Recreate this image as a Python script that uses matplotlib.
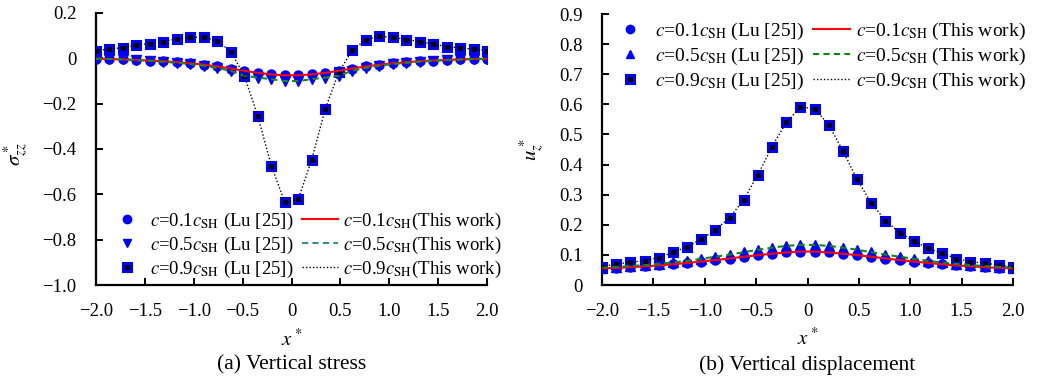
import numpy as np
import matplotlib
matplotlib.use("Agg")
from matplotlib import pyplot as plt
from matplotlib.lines import Line2D
from matplotlib.ticker import FuncFormatter

plt.rcParams['font.family'] = ['Liberation Serif', 'DejaVu Serif']
plt.rcParams['mathtext.fontset'] = 'stix'
plt.rcParams['font.size'] = 12

# 30 sample points between -2 and 2
x = np.linspace(-2.0, 2.0, 30)

# (a) vertical stress
stress_01 = [-0.002, -0.003, -0.005, -0.007, -0.010, -0.013, -0.017, -0.022, -0.028, -0.036,
             -0.045, -0.055, -0.064, -0.071, -0.075, -0.075, -0.071, -0.064, -0.055, -0.045,
             -0.036, -0.028, -0.022, -0.017, -0.013, -0.010, -0.007, -0.005, -0.003, -0.002]
stress_05 = [-0.002, -0.003, -0.005, -0.008, -0.011, -0.015, -0.020, -0.025, -0.033, -0.043,
             -0.055, -0.077, -0.085, -0.092, -0.100, -0.100, -0.092, -0.085, -0.077, -0.055,
             -0.043, -0.033, -0.025, -0.020, -0.015, -0.011, -0.008, -0.005, -0.003, -0.002]
stress_09 = [0.034, 0.041, 0.047, 0.058, 0.065, 0.074, 0.086, 0.093, 0.093, 0.077,
             0.030, -0.077, -0.254, -0.473, -0.634, -0.622, -0.447, -0.224, -0.062, 0.035,
             0.083, 0.097, 0.093, 0.083, 0.074, 0.063, 0.052, 0.046, 0.040, 0.034]

# (b) vertical displacement
disp_01 = [0.055, 0.057, 0.059, 0.062, 0.065, 0.069, 0.073, 0.078, 0.083, 0.088,
           0.094, 0.099, 0.104, 0.108, 0.111, 0.111, 0.108, 0.104, 0.099, 0.094,
           0.088, 0.083, 0.078, 0.073, 0.069, 0.065, 0.062, 0.059, 0.057, 0.055]
disp_05 = [0.058, 0.060, 0.063, 0.066, 0.070, 0.075, 0.080, 0.087, 0.094, 0.101,
           0.109, 0.117, 0.124, 0.130, 0.133, 0.133, 0.130, 0.124, 0.117, 0.109,
           0.101, 0.094, 0.087, 0.080, 0.075, 0.070, 0.066, 0.063, 0.060, 0.058]
disp_09 = [0.061, 0.070, 0.075, 0.081, 0.091, 0.108, 0.127, 0.152, 0.183, 0.224,
           0.283, 0.366, 0.460, 0.540, 0.591, 0.586, 0.532, 0.446, 0.351, 0.272,
           0.214, 0.174, 0.146, 0.122, 0.105, 0.088, 0.078, 0.072, 0.067, 0.061]

lab_lu = [r'$c$=0.1$c_{\mathrm{SH}}$ (Lu [25])',
          r'$c$=0.5$c_{\mathrm{SH}}$ (Lu [25])',
          r'$c$=0.9$c_{\mathrm{SH}}$ (Lu [25])']
lab_tw = [r'$c$=0.1$c_{\mathrm{SH}}$(This work)',
          r'$c$=0.5$c_{\mathrm{SH}}$(This work)',
          r'$c$=0.9$c_{\mathrm{SH}}$(This work)']
lab_tw2 = [r'$c$=0.1$c_{\mathrm{SH}}$ (This work)',
           r'$c$=0.5$c_{\mathrm{SH}}$ (This work)',
           r'$c$=0.9$c_{\mathrm{SH}}$ (This work)']

blue = '#0000ff'


def fmt(v, pos):
    if abs(v) < 1e-9:
        return '0'
    return ('%.1f' % v).replace('-', '\u2212')


def style_axes(ax):
    for s in ['top', 'right']:
        ax.spines[s].set_visible(False)
    for s in ['left', 'bottom']:
        ax.spines[s].set_linewidth(1.6)
    ax.tick_params(direction='in', length=5, width=1.4, labelsize=13.5)
    ax.tick_params(axis='x', pad=13)
    ax.tick_params(axis='y', pad=14)
    ax.xaxis.set_major_formatter(FuncFormatter(fmt))
    ax.yaxis.set_major_formatter(FuncFormatter(fmt))
    ax.set_xlim(-2.0, 2.0)
    ax.set_xticks(np.arange(-2.0, 2.01, 0.5))


def draw(ax, y1, y2, y3, tri, green):
    ax.plot(x, y1, ls='none', marker='o', ms=6.5, mfc=blue, mec=blue, zorder=3)
    ax.plot(x, y2, ls='none', marker=tri, ms=6.5, mfc=blue, mec=blue, zorder=3)
    ax.plot(x, y3, ls='none', marker='s', ms=6, mfc='black', mec=blue, mew=2.2, zorder=3)
    ax.plot(x, y1, color='red', lw=1.5, zorder=4)
    ax.plot(x, y2, color=green, lw=1.5, ls=(0, (3, 2)), zorder=4)
    ax.plot(x, y3, color='black', lw=1.0, ls=(0, (1, 1.5)), zorder=4)


def handles(tri, green):
    return [Line2D([], [], ls='none', marker='o', ms=6, mfc=blue, mec=blue),
            Line2D([], [], ls='none', marker=tri, ms=6, mfc=blue, mec=blue),
            Line2D([], [], ls='none', marker='s', ms=6, mfc='black', mec=blue, mew=2.2),
            Line2D([], [], color='red', lw=1.5),
            Line2D([], [], color=green, lw=1.5, ls=(0, (3, 2))),
            Line2D([], [], color='black', lw=1.0, ls=(0, (1, 1.5)))]


fig = plt.figure(figsize=(10.49, 3.80), dpi=100)
ax1 = fig.add_axes([96 / 1049, 0.25, (487 - 96) / 1049, 0.9658 - 0.25])
ax2 = fig.add_axes([602 / 1049, 0.25, (1013 - 602) / 1049, 0.963 - 0.25])

# (a)
draw(ax1, stress_01, stress_05, stress_09, 'v', '#1a8a1a')
style_axes(ax1)
ax1.set_ylim(-1.0, 0.2)
ax1.set_yticks(np.arange(-1.0, 0.21, 0.2))
ax1.set_ylabel(r'$\sigma^*_{zz}$', fontsize=15)
ax1.yaxis.set_label_coords(-66 / 391, 0.48)
ax1.legend(handles(tri='v', green='#3a8f8f'), lab_lu + lab_tw, ncol=2, frameon=False,
           loc='lower left', bbox_to_anchor=(0.01, -0.015), fontsize=13.5,
           handlelength=1.9, handletextpad=0.25, columnspacing=0.5, labelspacing=0.15,
           borderaxespad=0.1)

# (b)
draw(ax2, disp_01, disp_05, disp_09, '^', '#118811')
style_axes(ax2)
ax2.set_ylim(0, 0.9)
ax2.set_yticks(np.arange(0, 0.91, 0.1))
ax2.set_ylabel(r'$u^*_z$', fontsize=15)
ax2.yaxis.set_label_coords(-56 / 411, 0.5)
ax2.legend(handles(tri='^', green='#118811'), lab_lu + lab_tw2, ncol=2, frameon=False,
           loc='upper left', bbox_to_anchor=(0.0, 1.01), fontsize=14,
           handlelength=1.9, handletextpad=0.3, columnspacing=0.5, labelspacing=0.2,
           borderaxespad=0.1)

for ax, cap in [(ax1, '(a) Vertical stress'), (ax2, '(b) Vertical displacement')]:
    ax.set_xlabel(r'$x^*$', fontsize=15)
    ax.xaxis.set_label_coords(0.5, -44 / 272)
    pos = ax.get_position()
    fig.text((pos.x0 + pos.x1) / 2, 15 / 380, cap, ha='center', va='center', fontsize=15.5)

fig.savefig('out.png', dpi=100)
